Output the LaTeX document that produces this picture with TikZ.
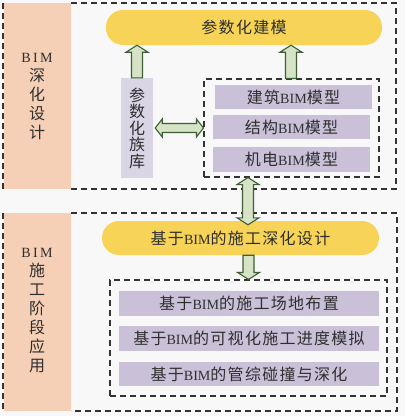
\documentclass[tikz,border=0pt]{standalone}
\usepackage{fontspec}
\setmainfont{Noto Sans CJK SC}[LetterSpace=8]
\newfontfamily\latin{Liberation Serif}[Scale=0.88]
\usetikzlibrary{calc}
\newcommand\bim{{\latin BIM}}
\definecolor{bgc}{HTML}{F8F8F8}
\definecolor{salmon}{HTML}{F5D0B7}
\definecolor{yel}{HTML}{F7D358}
\definecolor{purp}{HTML}{CAC1D9}
\definecolor{lav}{HTML}{D9D5E4}
\definecolor{afill}{HTML}{D6E3C6}
\definecolor{aline}{HTML}{3E5E33}
\definecolor{txt}{HTML}{2E2E2E}
\definecolor{dsh}{HTML}{333333}
\tikzset{
  dsh/.style={draw=dsh,line width=1.1pt,dash pattern=on 6pt off 4pt},
  fat/.style={fill=afill,draw=aline,line width=1.1pt,line join=miter},
  ybox/.style={fill=yel,rounded corners=17pt,inner sep=0pt,text=txt},
  pbox/.style={fill=purp,inner sep=0pt,text=txt},
  ibox/.style={dsh,inner sep=0pt},
  txtf/.style={font=\fontsize{16}{19}\selectfont},
}
% single arrow: #1 tail, #2 tip, #3 shaft half width, #4 head half width
\newcommand\fatsingle[4]{%
  \coordinate (fB) at ($(#2)!7pt!(#1)$);
  \draw[fat] ($(#1)!#3!90:(#2)$) -- ($(fB)!#3!90:(#2)$) -- ($(fB)!#4!90:(#2)$) -- (#2)
    -- ($(fB)!#4!-90:(#2)$) -- ($(fB)!#3!-90:(#2)$) -- ($(#1)!#3!-90:(#2)$) -- cycle;}
% double arrow
\newcommand\fatdouble[4]{%
  \coordinate (fB) at ($(#2)!7pt!(#1)$);
  \coordinate (fC) at ($(#1)!7pt!(#2)$);
  \draw[fat] ($(fC)!#3!90:(#2)$) -- ($(fB)!#3!90:(#2)$) -- ($(fB)!#4!90:(#2)$) -- (#2)
    -- ($(fB)!#4!-90:(#2)$) -- ($(fB)!#3!-90:(#2)$) -- ($(fC)!#3!-90:(#2)$)
    -- ($(fC)!#4!-90:(#2)$) -- (#1) -- ($(fC)!#4!90:(#2)$) -- cycle;}
\begin{document}
\begin{tikzpicture}[x=1pt,y=-1pt,txtf]
\useasboundingbox (0,0) rectangle (405,416);
\fill[bgc] (0,0) rectangle (405,416);
% section strips
\fill[salmon] (4,3) rectangle (71,189);
\fill[salmon] (4,213) rectangle (71,411);
\draw[dsh] (71,3) -- (396,3) -- (396,189) -- (71,189) (3,3) -- (3,189);
\draw[dsh] (71,213) -- (397,213) -- (397,411) -- (71,411) (3,213) -- (3,411);
\node[text=txt,align=center] (s1) at (37,97) {{\latin B\,I\,M}\\深\\化\\设\\计};
\node[text=txt,align=center] (s2) at (37,311) {{\latin B\,I\,M}\\施\\工\\阶\\段\\应\\用};
% top section
\node[ybox,minimum width=276pt,minimum height=35pt] (top) at (244,27.5) {参数化建模};
\node[fill=lav,inner sep=0pt,minimum width=32pt,minimum height=100pt,text=txt,align=center,
  font=\fontsize{16}{16.5}\selectfont] (fz) at (137,128) {参\\数\\化\\族\\库};
\node[ibox,minimum width=175pt,minimum height=98pt] (in1) at (291.5,128) {};
\node[pbox,minimum width=157pt,minimum height=24pt] (m1) at (293.5,97) {建筑\bim 模型};
\node[pbox,minimum width=157pt,minimum height=24pt] (m2) at (291.5,127) {结构\bim 模型};
\node[pbox,minimum width=157pt,minimum height=25pt] (m3) at (291.5,159.5) {机电\bim 模型};
% bottom section
\node[ybox,minimum width=277pt,minimum height=34pt] (y2) at (240.5,238) {基于\bim 的施工深化设计};
\node[ibox,minimum width=277pt,minimum height=116pt] (in2) at (248.5,338) {};
\node[pbox,minimum width=260pt,minimum height=25pt] (p1) at (249,303.5) {基于\bim 的施工场地布置};
\node[pbox,minimum width=260pt,minimum height=25pt] (p2) at (249,338.5) {基于\bim 的可视化施工进度模拟};
\node[pbox,minimum width=260pt,minimum height=24pt] (p3) at (249,374) {基于\bim 的管综碰撞与深化};
% arrows
\coordinate (a1t) at (fz.north |- top.south);
\fatsingle{fz.north}{a1t}{5.5pt}{11pt}
\coordinate (a2s) at ([xshift=-0.5pt]in1.north);
\coordinate (a2t) at (a2s |- top.south);
\fatsingle{a2s}{a2t}{5.5pt}{11pt}
\coordinate (h1) at ([xshift=2pt]fz.east);
\fatdouble{h1}{in1.west}{4.5pt}{9pt}
\coordinate (d1) at ([xshift=-43.5pt]in1.south);
\coordinate (d2a) at (d1 |- y2.north);
\coordinate (d2) at ([yshift=-4pt]d2a);
\fatdouble{d2}{d1}{5.5pt}{11pt}
\coordinate (e1) at (in2.north |- y2.south);
\fatsingle{e1}{in2.north}{5.5pt}{11pt}
\end{tikzpicture}
\end{document}
